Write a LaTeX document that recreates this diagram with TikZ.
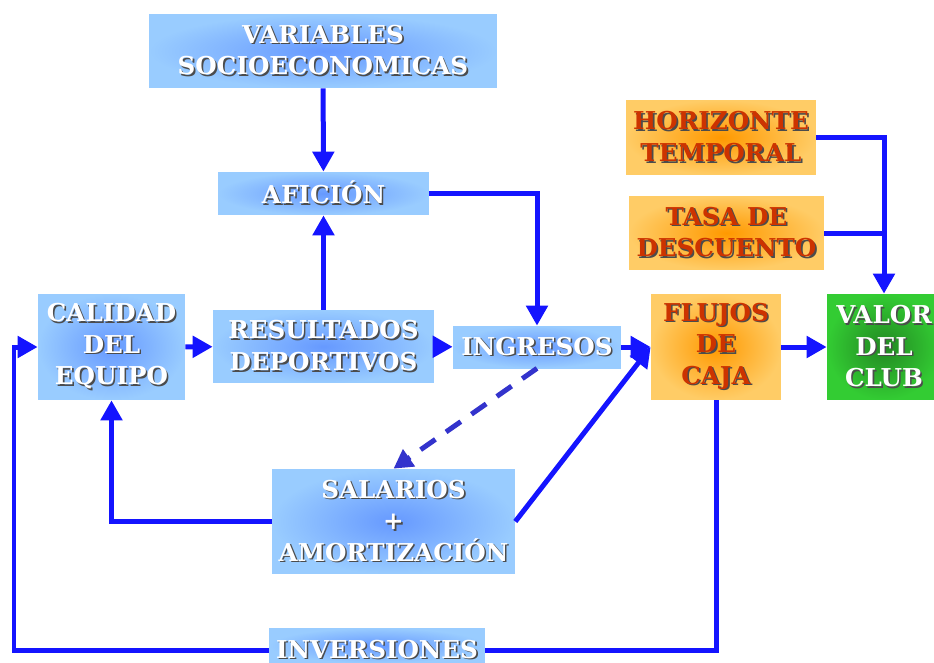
\documentclass[tikz,border=0pt]{standalone}
\usepackage{fontspec}
\setmainfont{DejaVu Serif}
\usetikzlibrary{arrows.meta}
\definecolor{flecha}{RGB}{20,20,255}
\definecolor{discont}{RGB}{51,51,204}
\definecolor{azulclaro}{RGB}{153,204,255}
\definecolor{azulmedio}{RGB}{102,153,255}
\definecolor{naranjaclaro}{RGB}{255,204,102}
\definecolor{naranja}{RGB}{255,153,0}
\definecolor{verde}{RGB}{51,204,51}
\definecolor{verdeosc}{RGB}{34,136,34}
\definecolor{rojizo}{RGB}{204,51,0}
\newcommand{\sh}[1]{\rlap{\kern0.9pt\raisebox{-0.9pt}{\textcolor{black!70}{#1}}}#1}
\begin{document}
\begin{tikzpicture}[x=0.02cm,y=-0.02cm,
    caja/.style={inner color=azulmedio, outer color=azulclaro, text=white,
      font=\fontsize{14}{18}\selectfont\bfseries, align=center, inner sep=0pt},
    cajan/.style={caja, inner color=naranja, outer color=naranjaclaro, text=rojizo},
    cajav/.style={caja, inner color=verdeosc, outer color=verde},
    fl/.style={draw=flecha, line width=0.1cm, -{Triangle[length=0.4cm,width=0.42cm]}},
    ln/.style={draw=flecha, line width=0.1cm},
    fld/.style={draw=discont, line width=0.1cm, dash pattern=on 0.36cm off 0.26cm,
      -{Triangle[length=0.38cm,width=0.4cm]}}]
        \useasboundingbox (0,0) rectangle (934,663);
        \clip (0,0) rectangle (934,663);
        %% boxes
        \node[caja, minimum width=6.96cm, minimum height=1.48cm] (var) at (323,51)
            {\sh{VARIABLES}\\\sh{SOCIOECONOMICAS}};
        \node[caja, minimum width=4.22cm, minimum height=0.86cm] (afi) at (323.5,193.5)
            {\sh{AFICIÓN}};
        \node[caja, minimum width=2.94cm, minimum height=2.12cm] (cal) at (111.5,347)
            {\sh{CALIDAD}\\\sh{DEL}\\\sh{EQUIPO}};
        \node[caja, minimum width=4.42cm, minimum height=1.46cm] (res) at (323.5,346.5)
            {\sh{RESULTADOS}\\\sh{DEPORTIVOS}};
        \node[caja, minimum width=3.36cm, minimum height=0.84cm] (ing) at (537,347)
            {\sh{INGRESOS}};
        \node[cajan, minimum width=2.6cm, minimum height=2.12cm] (flu) at (716,347)
            {\sh{FLUJOS}\\\sh{DE}\\\sh{CAJA}};
        \node[cajav, minimum width=2.28cm, minimum height=2.12cm] (val) at (884,347)
            {\sh{VALOR}\\\sh{DEL}\\\sh{CLUB}};
        \node[cajan, minimum width=3.8cm, minimum height=1.5cm] (hor) at (721,137.5)
            {\sh{HORIZONTE}\\\sh{TEMPORAL}};
        \node[cajan, minimum width=3.9cm, minimum height=1.48cm] (tas) at (726.5,233)
            {\sh{TASA DE}\\\sh{DESCUENTO}};
        \node[caja, minimum width=4.86cm, minimum height=2.1cm] (sal) at (393.5,521.5)
            {\sh{SALARIOS}\\\sh{+}\\\sh{AMORTIZACIÓN}};
        \node[caja, minimum width=4.32cm, minimum height=0.7cm, text height=0.55cm,
            text depth=0.05cm] (inv) at (377,645.5) {\sh{INVERSIONES}};
        %% arrows
        \draw[fl] (var) -- (afi);
        \draw[fl] (res) -- (afi);
        \draw[fl] (afi.east) -| (ing.north);
        \draw[fl] (cal) -- (res);
        \draw[fl] (res) -- (ing);
        \draw[fl] (ing) -- (flu.west);
        \draw[fl] (sal.east) -- (flu.west);
        \draw[fld] (ing.south) -- (sal.north);
        \draw[fl] (sal.west) -| (cal.south);
        \draw[fl] (flu) -- (val);
        \draw[fl] (hor.east) -| (val.north);
        \draw[ln] (tas.east) -- (tas.east -| val.north);
        %% inversiones loop
        \coordinate (esq) at (14,650);
        \draw[ln] (flu.south) |- (inv.east |- esq);
        \draw[fl] (inv.west |- esq) -- (esq) |- (cal.west);
\end{tikzpicture}
\end{document}
